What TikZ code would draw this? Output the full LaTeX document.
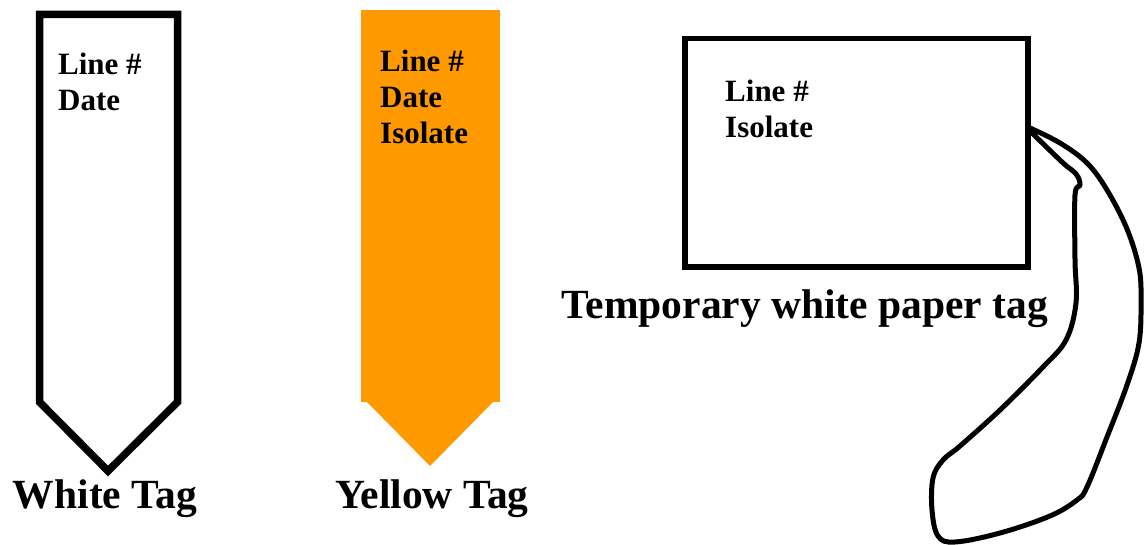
\documentclass[tikz,border=0pt]{standalone}
\usepackage{fontspec}
\setmainfont{Liberation Serif}
\definecolor{tagorange}{RGB}{255,153,0}
\begin{document}
\begin{tikzpicture}[x=1pt,y=-1pt,
  outline/.style={draw=black,line width=7.5pt,line join=miter},
  tagtext/.style={anchor=north west,inner sep=0pt,align=left,
    font=\bfseries\fontsize{31}{36}\selectfont},
  caption/.style={anchor=base,inner sep=0pt,
    font=\bfseries\fontsize{41.5}{48}\selectfont}]
\useasboundingbox (0,0) rectangle (1145,545);

% white stake tag
\draw[outline] (39.5,14.5) -- (39.5,402) -- (108,471) -- (177.5,402) -- (177.5,14.5) -- cycle;
\node[tagtext] (wtext) at (58,53) {Line \#\\Date};
\node[caption] (wcap) at (105,508) {White Tag};

% yellow stake tag
\fill[tagorange] (361,10) rectangle (500,402);
\fill[tagorange] (366,401) -- (430,466) -- (494,401) -- cycle;
\node[tagtext] (ytext) at (380,50) {Line \#\\Date\\Isolate};
\node[caption] (ycap) at (432,508) {Yellow Tag};

% temporary paper tag with its string loop
\draw[draw=black,line width=5.5pt] (685,38.5) rectangle (1028,267);
\node[tagtext] (ptext) at (725,80) {Line \#\\Isolate};
\node[caption] (pcap) at (805,318) {Temporary white paper tag};

\draw[line width=5pt,line join=round] plot[smooth,tension=0.6] coordinates {
  (1030,128) (1060,143) (1087,163) (1107,190) (1127,229) (1139,268) (1141,300)
  (1139,343) (1127,385) (1107,437) (1087,487) (1077,500) (1050,516) (1000,533)
  (955,542) (938,536) (932,510) (933,478) (943,460) (960,446) (1000,410)
  (1043,367) (1066,340) (1076,303) (1075,260) (1075,195) (1080,185) (1076,174)
  (1062,162) (1030,131)};
\end{tikzpicture}
\end{document}
